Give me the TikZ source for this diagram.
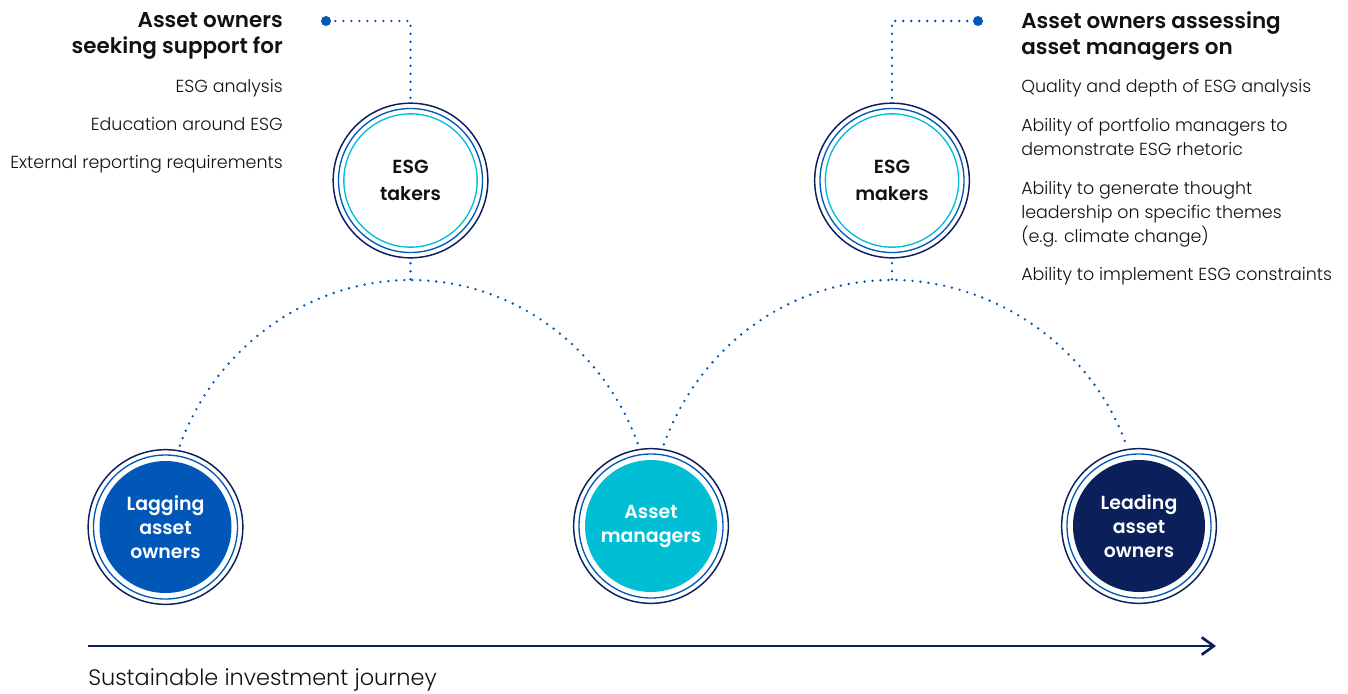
\documentclass[tikz,border=0pt]{standalone}
\usepackage{fontspec}
\setmainfont{Poppins}[UprightFont={* Light},BoldFont={* SemiBold}]
\usepackage{tikz}
\usetikzlibrary{arrows.meta}

\definecolor{navy}{HTML}{0B1F5B}
\definecolor{midblue}{HTML}{0057B8}
\definecolor{aqua}{HTML}{00BFD4}
\definecolor{ink}{HTML}{111111}

\begin{document}
\begin{tikzpicture}
	[x=0.75pt,y=-0.75pt,>={Straight Barb[length=9pt,width=13pt]}]
	\tikzstyle{stage}=[circle,draw=navy,line width=1.1pt,minimum size=116pt,inner sep=0pt,outer sep=4pt,align=center,font=\bfseries\fontsize{14.2}{18}\selectfont]
	\tikzstyle{lowstage}=[stage,text=white,path picture={
		\fill[#1] (path picture bounding box.center) circle[radius=49.5pt];
		\draw[midblue,line width=1pt] (path picture bounding box.center) circle[radius=54pt];}]
	\tikzstyle{topstage}=[stage,text=ink,font=\bfseries\fontsize{14.2}{20}\selectfont,path picture={
		\draw[midblue,line width=1pt] (path picture bounding box.center) circle[radius=54pt];
		\draw[aqua,line width=1pt] (path picture bounding box.center) circle[radius=50pt];}]
	\tikzstyle{bigdot}=[circle,fill=midblue,minimum size=7.5pt,inner sep=0pt]
	\tikzstyle{dotline}=[draw=midblue,line width=2pt,line cap=round,dash pattern=on 0pt off 6pt]
	\tikzstyle{head}=[inner sep=0pt,text=ink,font=\bfseries\fontsize{16.1}{19}\selectfont]
	\tikzstyle{item}=[inner sep=0pt,text=ink,font=\fontsize{13.1}{18}\selectfont]

	\useasboundingbox (0,0) rectangle (1348,693);

	% circles
	\node[lowstage=midblue] (lagging)  at (165.5,527) {Lagging\\asset\\owners};
	\node[lowstage=aqua]    (managers) at (651,526)   {Asset\\managers};
	\node[lowstage=navy]    (leading)  at (1139,526)  {Leading\\asset\\owners};
	\node[topstage]         (takers)   at (410.5,180.5) {ESG\\takers};
	\node[topstage]         (makers)   at (892,180.5)   {ESG\\makers};

	\node[bigdot] (seekdot)   at (326,21) {};
	\node[bigdot] (assessdot) at (978,21) {};
	\coordinate (takers foot) at (410.5,280);
	\coordinate (makers foot) at (892,280);

	% dotted links
	\path[dotline] (takers.north) |- (seekdot);
	\path[dotline] (makers.north) |- (assessdot);
	\path[dotline] (takers.south) -- (takers foot);
	\path[dotline] (makers.south) -- (makers foot);
	\path[dotline] (lagging.80) .. controls +(35,-97) and +(-103,0) .. (takers foot)
		.. controls +(103,0) and +(-35,-97) .. (managers.99);
	\path[dotline] (managers.81) .. controls +(35,-97) and +(-103,0) .. (makers foot)
		.. controls +(103,0) and +(-35,-97) .. (leading.99);

	% left texts (multi-line nodes sit on their last baseline)
	\node[head,anchor=base east,align=right] (seekhead) at (283,53) {Asset owners\\seeking support for};
	\node[item,anchor=base east] (seek1) at (283,92)  {ESG analysis};
	\node[item,anchor=base east] (seek2) at (283,130) {Education around ESG};
	\node[item,anchor=base east] (seek3) at (283,168) {External reporting requirements};

	% right texts
	\node[head,anchor=base west,align=left] (assesshead) at (1021,54) {Asset owners assessing\\asset managers on};
	\node[item,anchor=base west] (assess1) at (1021,92) {Quality and depth of ESG analysis};
	\node[item,anchor=base west,align=left] (assess2) at (1021,155) {Ability of portfolio managers to\\demonstrate ESG rhetoric};
	\node[item,anchor=base west,align=left] (assess3) at (1021,242) {Ability to generate thought\\leadership on specific themes\\(e.g. climate change)};
	\node[item,anchor=base west] (assess4) at (1021,280) {Ability to implement ESG constraints};

	% journey
	\coordinate (journey start) at (88,646);
	\coordinate (journey end)   at (1216,646);
	\draw[->,navy,line width=2pt] (journey start) -- (journey end);
	\node[inner sep=0pt,anchor=base west,text=ink,font=\fontsize{16.8}{18}\selectfont] (journey) at (88,685) {Sustainable investment journey};
\end{tikzpicture}
\end{document}
